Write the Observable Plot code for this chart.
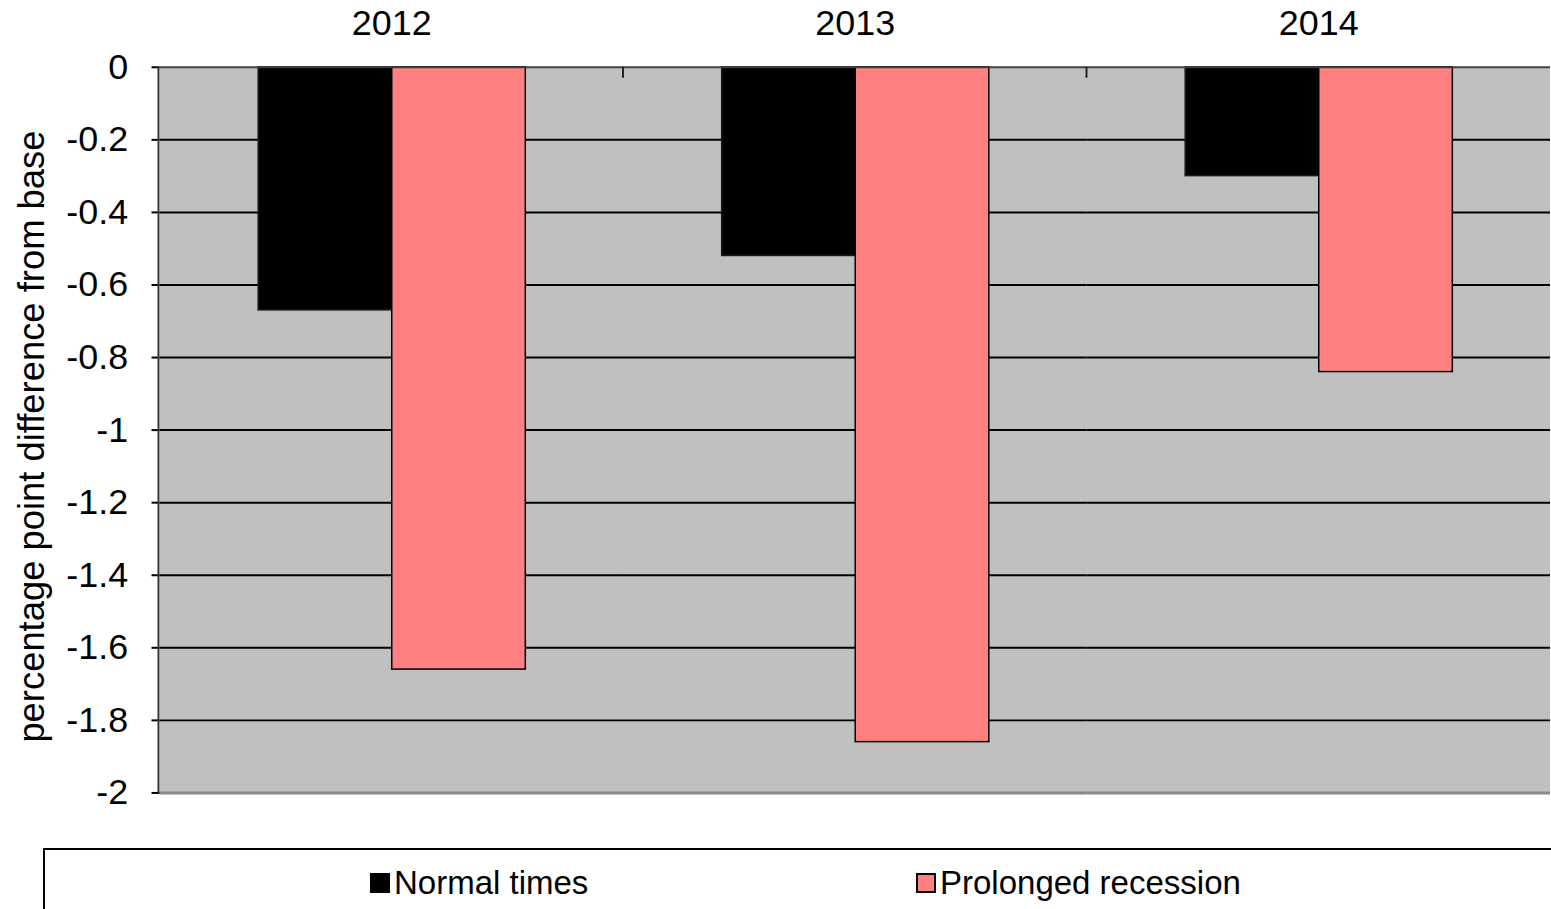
<!DOCTYPE html>
<html>
<head>
<meta charset="utf-8">
<script src="https://cdn.jsdelivr.net/npm/d3@7"></script>
<script src="https://cdn.jsdelivr.net/npm/@observablehq/plot@0.6"></script>
<style>
  html, body { margin: 0; padding: 0; background: #fff; overflow: hidden; width: 1551px; height: 909px; }
  #chart { position: absolute; left: 0; top: 0; width: 1551px; height: 830px; overflow: hidden; }
  #legend { position: absolute; left: 43px; top: 848px; width: 1600px; height: 120px; border: 2px solid #000; box-sizing: border-box; font-family: "Liberation Sans", Arial, sans-serif; font-size: 33px; color: #000; }
  .item { position: absolute; top: 14px; display: flex; align-items: center; white-space: nowrap; }
  .sw { width: 20px; height: 20px; margin-right: 4px; box-sizing: border-box; }
</style>
</head>
<body>
<div id="chart"></div>
<div id="legend"></div>
<script>
const years = ["2012", "2013", "2014"];
const series = ["Normal times", "Prolonged recession"];
const normalTimes = [-0.67, -0.52, -0.30];
const prolongedRecession = [-1.66, -1.86, -0.84];
const seriesColors = ["#000000", "#FF8080"];
const yTicks = [0, -0.2, -0.4, -0.6, -0.8, -1, -1.2, -1.4, -1.6, -1.8, -2];
const yLabel = "percentage point difference from base";

const table = [];
years.forEach((yr, i) => {
  table.push({year: yr, series: series[0], value: normalTimes[i]});
  table.push({year: yr, series: series[1], value: prolongedRecession[i]});
});

const font = "'Liberation Sans', Arial, sans-serif";
const W = 1556, H = 830, mL = 159, mT = 67, mB = 35;

const plot = Plot.plot({
  width: W, height: H,
  marginLeft: mL, marginRight: 0, marginTop: mT, marginBottom: mB,
  style: {fontFamily: font, background: "#fff", overflow: "visible"},
  fx: {domain: years, padding: 0, label: null},
  x: {domain: series, paddingInner: 0, paddingOuter: 0.735, axis: null},
  y: {domain: [-2, 0], label: null},
  color: {domain: series, range: seriesColors},
  marks: [
    Plot.frame({fill: "#C0C0C0", stroke: null, shapeRendering: "crispEdges"}),
    Plot.ruleY(yTicks.filter(d => d < 0 && d > -2), {stroke: "#000", strokeWidth: 2}),
    Plot.ruleY([-2], {stroke: "#888", strokeWidth: 3}),
    Plot.barY(table, {fx: "year", x: "series", y: "value", fill: "series",
      stroke: d => d.series === series[1] ? "#000" : "#1a1a1a", strokeWidth: 1.5, inset: 0}),
    Plot.ruleY([0], {stroke: "#404040", strokeWidth: 2}),
    Plot.axisY({ticks: yTicks, tickFormat: d => String(d), tickSize: 8, tickPadding: 24,
      fontSize: 36, stroke: "#000", strokeWidth: 2, label: null}),
    Plot.axisFx({anchor: "top", tickSize: 0, tickPadding: 32, fontSize: 36, label: null})
  ]
});

const svg = d3.select(plot);
const yS = plot.scale("y");
const fxS = plot.scale("fx");
// y axis line
svg.append("line").attr("x1", mL).attr("x2", mL)
  .attr("y1", yS.apply(0)).attr("y2", yS.apply(-2))
  .attr("stroke", "#333").attr("stroke-width", 2);
// category boundary ticks on top axis
years.slice(1).forEach(yr => {
  const x = fxS.apply(yr);
  svg.append("line").attr("x1", x).attr("x2", x)
    .attr("y1", yS.apply(0)).attr("y2", yS.apply(0) + 11)
    .attr("stroke", "#222").attr("stroke-width", 2);
});
// rotated y label
svg.append("text")
  .attr("transform", `translate(44, ${(yS.apply(0) + yS.apply(-2)) / 2 + 7}) rotate(-90)`)
  .attr("text-anchor", "middle")
  .attr("font-family", font).attr("font-size", 36.5).attr("fill", "#000")
  .text(yLabel);

document.getElementById("chart").appendChild(plot);

const legend = document.getElementById("legend");
const legendLeft = [325, 871];
series.forEach((s, i) => {
  const item = document.createElement("div");
  item.className = "item";
  item.style.left = legendLeft[i] + "px";
  const sw = document.createElement("div");
  sw.className = "sw";
  sw.style.background = seriesColors[i];
  if (i === 1) sw.style.border = "2px solid #000";
  const t = document.createElement("span");
  t.textContent = s;
  item.appendChild(sw);
  item.appendChild(t);
  legend.appendChild(item);
});
</script>
</body>
</html>
